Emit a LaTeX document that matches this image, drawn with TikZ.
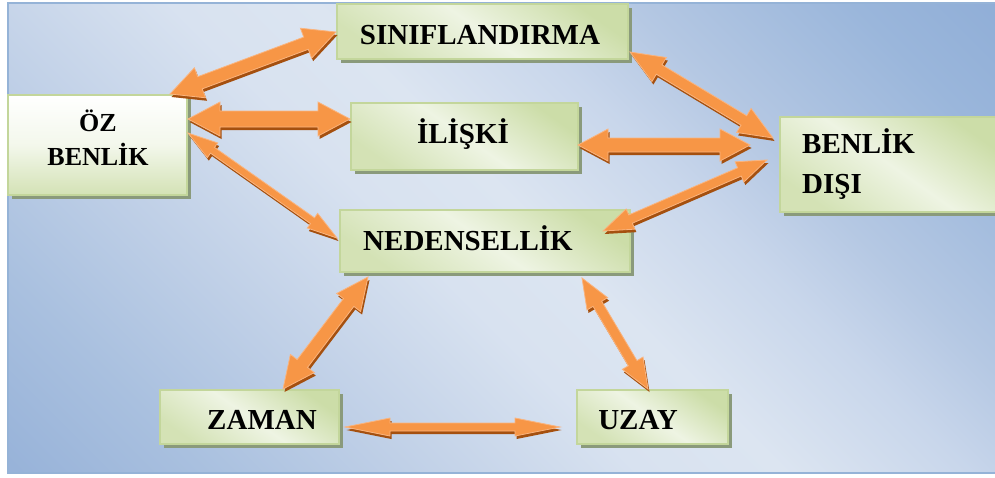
\documentclass[tikz,border=0pt]{standalone}
\usepackage{fontspec}
\setmainfont{Liberation Serif}
\usetikzlibrary{calc,shadows}
\definecolor{bgs0}{HTML}{98B3D9}
\definecolor{bgs1}{HTML}{A9C0DF}
\definecolor{bgs2}{HTML}{C0D0E7}
\definecolor{bgs3}{HTML}{D8E2F0}
\definecolor{bgs4}{HTML}{DCE5F1}
\definecolor{bgs5}{HTML}{C8D6EB}
\definecolor{bgs6}{HTML}{B5C8E3}
\definecolor{bgs7}{HTML}{9AB6DB}
\definecolor{bgs8}{HTML}{90AED7}
\definecolor{frameblue}{HTML}{95B3D7}
\definecolor{boxline}{HTML}{C3D69B}
\definecolor{boxshadow}{HTML}{8A9A7B}
\definecolor{boxlight}{HTML}{EEF4E3}
\definecolor{boxdark}{HTML}{CCDDA8}
\definecolor{arrfill}{HTML}{F79646}
\definecolor{arredge}{HTML}{FAB47E}
\definecolor{arrshade}{HTML}{A5500F}

\pgfdeclareverticalshading{bgshade}{100bp}{color(0bp)=(bgs0); color(15bp)=(bgs0); color(24bp)=(bgs1); color(34bp)=(bgs2); color(45bp)=(bgs3); color(52bp)=(bgs4); color(61bp)=(bgs5); color(67bp)=(bgs6); color(78bp)=(bgs7); color(85bp)=(bgs8); color(100bp)=(bgs8)}

\newcommand\dblarr[5]{%
 \coordinate (ha) at ($(#1)!#5!(#2)$);
 \coordinate (hb) at ($(#2)!#5!(#1)$);
 \coordinate (p1) at ($(ha)!#4!90:(#2)$);
 \coordinate (p2) at ($(ha)!#3!90:(#2)$);
 \coordinate (p3) at ($(hb)!#3!-90:(#1)$);
 \coordinate (p4) at ($(hb)!#4!-90:(#1)$);
 \coordinate (p5) at ($(hb)!#4!90:(#1)$);
 \coordinate (p6) at ($(hb)!#3!90:(#1)$);
 \coordinate (p7) at ($(ha)!#3!-90:(#2)$);
 \coordinate (p8) at ($(ha)!#4!-90:(#2)$);
 \fill[arrshade, transform canvas={xshift=1.5pt,yshift=-3pt}] (#1)--(p1)--(p2)--(p3)--(p4)--(#2)--(p5)--(p6)--(p7)--(p8)--cycle;
 \filldraw[fill=arrfill, draw=arredge, line width=0.8pt, line join=miter] (#1)--(p1)--(p2)--(p3)--(p4)--(#2)--(p5)--(p6)--(p7)--(p8)--cycle;
}

\tikzset{
 cbox/.style={rectangle, draw=boxline, line width=1.6pt, inner sep=0pt,
   top color=boxdark, bottom color=boxdark!85!white, middle color=boxlight, shading angle=-35,
   general shadow={fill=boxshadow, shadow xshift=4pt, shadow yshift=-4pt}},
 wbox/.style={cbox, top color=white, bottom color=boxdark!85, middle color=boxlight!70!white, shading angle=0},
 lbl/.style={inner sep=0pt, font=\fontsize{29}{40}\selectfont\bfseries, text=black},
}

\begin{document}
\begin{tikzpicture}[x=1pt,y=-1pt]
\useasboundingbox (0,0) rectangle (995,477);
\begin{scope}
\clip (0,0) rectangle (995,477);
\shade[shading=bgshade, shading angle=-45] (8,3) rectangle (1010,473);
\draw[frameblue, line width=1.5pt] (8,3) rectangle (1010,473);

% boxes
\node[wbox, minimum width=179pt, minimum height=100pt] (oz) at (97.5,145) {};
\node[cbox, minimum width=291pt, minimum height=55pt] (sinif) at (482.5,31.5) {};
\node[cbox, minimum width=227pt, minimum height=67pt] (iliski) at (464.5,136.5) {};
\node[cbox, minimum width=290pt, minimum height=62pt] (neden) at (485,241) {};
\node[cbox, minimum width=220pt, minimum height=95pt] (benlik) at (890,164.5) {};
\node[cbox, minimum width=179pt, minimum height=54pt] (zaman) at (249.5,417) {};
\node[cbox, minimum width=151pt, minimum height=54pt] (uzay) at (652.5,417) {};

% labels
\node[lbl, font=\fontsize{26}{34}\selectfont\bfseries, align=center] (oz-t) at (98,138) {ÖZ\\BENLİK};
\node[lbl, anchor=base] (sinif-t) at (480,44) {SINIFLANDIRMA};
\node[lbl, anchor=base] (iliski-t) at (463,143) {İLİŞKİ};
\node[lbl, anchor=base] (neden-t) at (468,250) {NEDENSELLİK};
\node[lbl, align=left, anchor=west] (benlik-t) at (802,164.5) {BENLİK\\DIŞI};
\node[lbl, anchor=base] (zaman-t) at (262,429) {ZAMAN};
\node[lbl, anchor=base] (uzay-t) at (638,429) {UZAY};

% arrow end points
\coordinate (a1) at (170,94);  \coordinate (b1) at (336,32);
\coordinate (a2) at (188,119); \coordinate (b2) at (350,119);
\coordinate (a3) at (188,133); \coordinate (b3) at (337,238);
\coordinate (a4) at (630,52);  \coordinate (b4) at (773,138);
\coordinate (a5) at (578,145); \coordinate (b5) at (750,145);
\coordinate (a6) at (603,231); \coordinate (b6) at (767,160);
\coordinate (a7) at (368,277); \coordinate (b7) at (283,389);
\coordinate (a8) at (582,278); \coordinate (b8) at (648,389);
\coordinate (a9) at (345,427); \coordinate (b9) at (560,427);

\dblarr{a1}{b1}{6.5pt}{16pt}{32pt}
\dblarr{a2}{b2}{8pt}{17pt}{32pt}
\dblarr{a3}{b3}{3.5pt}{9pt}{30pt}
\dblarr{a4}{b4}{5.5pt}{14pt}{34pt}
\dblarr{a5}{b5}{7pt}{16pt}{30pt}
\dblarr{a6}{b6}{4.5pt}{11pt}{30pt}
\dblarr{a7}{b7}{6.5pt}{15pt}{32pt}
\dblarr{a8}{b8}{5pt}{12pt}{30pt}
\dblarr{a9}{b9}{4pt}{9pt}{45pt}
\end{scope}
\end{tikzpicture}
\end{document}
